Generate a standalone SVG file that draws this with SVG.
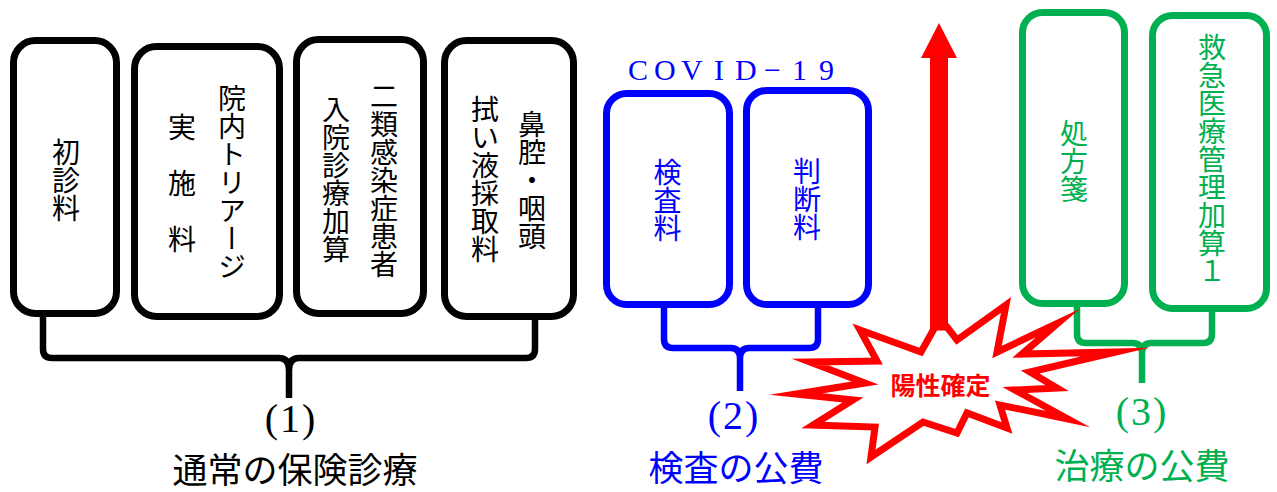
<svg xmlns="http://www.w3.org/2000/svg" width="1277" height="492" viewBox="0 0 1277 492">
<style>
.box{fill:#fff;stroke-width:7}
.bk{stroke:#000}.bl{stroke:#0000FF}.gr{stroke:#00B050}
.vt{writing-mode:vertical-rl;font-family:"Noto Sans CJK JP",sans-serif;font-size:28px;text-anchor:middle}
.br{fill:none;stroke-width:6.5;stroke-linecap:butt;stroke-linejoin:round}
.lbl{font-family:"Noto Sans CJK JP",sans-serif;font-size:35px;text-anchor:middle}
.num{font-family:"Liberation Serif",serif;font-size:40px;text-anchor:middle;letter-spacing:2px}
</style>
<rect width="1277" height="492" fill="#fff"/>
<g id="connectors">
  <path class="br" stroke="#000" d="M43,317 L43,349 Q43,358 52,358 L279,358 Q289,358 289,370 L289,398 M289,370 Q289,358 299,358 L526,358 Q535,358 535,349 L535,317"/>
  <path class="br" stroke="#0000FF" d="M664,307 L664,339 Q664,348 673,348 L731,348 Q740,348 740,359 L740,391 M740,359 Q740,348 749,348 L809,348 Q818,348 818,339 L818,307"/>
  <path class="br" stroke="#00B050" d="M1077,306 L1077,334 Q1077,343 1086,343 L1133,343 Q1142,343 1142,354 L1142,383 M1142,354 Q1142,343 1151,343 L1203,343 Q1212,343 1212,334 L1212,311"/>
  <g id="arrow-up">
    <rect x="930" y="56" width="18" height="276" fill="#FF0000"/>
    <polygon points="939,23 957,58 921,58" fill="#FF0000"/>
  </g>
</g>
<g id="n1"><rect class="box bk" x="13.5" y="40.5" width="103" height="273" rx="22"/>
  <text class="vt" x="66" y="180">初診料</text></g>
<g id="n2"><rect class="box bk" x="134.5" y="46.5" width="145" height="270" rx="22"/>
  <text class="vt" x="232" y="182">院内トリアージ</text>
  <text class="vt" x="182" y="183">実　施　料</text></g>
<g id="n3"><rect class="box bk" x="296.5" y="39.5" width="127" height="274" rx="22"/>
  <text class="vt" x="384" y="180">二類感染症患者</text>
  <text class="vt" x="336" y="179">入院診療加算</text></g>
<g id="n4"><rect class="box bk" x="444.5" y="40.5" width="129" height="276" rx="22"/>
  <text class="vt" x="532" y="180">鼻腔・咽頭</text>
  <text class="vt" x="485" y="179">拭い液採取料</text></g>
<g id="covid-label"><text x="628 654 681 714 735 764 792 819" y="80" font-family="Liberation Serif, serif" font-size="30" fill="#0000FF">COVID−19</text></g>
<g id="n5"><rect class="box bl" x="606.5" y="93.5" width="123" height="211" rx="20"/>
  <text class="vt" x="667.5" y="200.5" fill="#0000FF">検査料</text></g>
<g id="n6"><rect class="box bl" x="746.5" y="90.5" width="122" height="214" rx="20"/>
  <text class="vt" x="807" y="199.5" fill="#0000FF">判断料</text></g>
<g id="n7"><rect class="box gr" x="1022.5" y="12.5" width="102" height="291" rx="20"/>
  <text class="vt" x="1074" y="161" fill="#00B050">処方箋</text></g>
<g id="n8"><rect class="box gr" x="1152.5" y="15.5" width="114" height="293" rx="20"/>
  <text class="vt" x="1212" y="159" fill="#00B050">救急医療管理加算１</text></g>
<g id="burst">
  <polygon points="860,330 921,352 935,327 947,327 957,340 1006,305 997,352 1058,323 1022,354 1116,352 1030,372 1057,388 1015,390 1068,419 1000,405 1007,428 967,413 957,433 923,422 871,457 875,427 813,425 853,400 796,394 865,383 810,362 877,361" fill="#fff" stroke="#FF0000" stroke-width="7" stroke-linejoin="miter" stroke-miterlimit="20"/>
  <text x="940.5" y="395" font-family="Noto Sans CJK JP, sans-serif" font-size="25" font-weight="bold" fill="#FF0000" text-anchor="middle">陽性確定</text>
</g>
<g id="label1"><text class="num" x="291" y="432" fill="#000">(1)</text>
  <text class="lbl" x="295" y="483" fill="#000">通常の保険診療</text></g>
<g id="label2"><text class="num" x="734" y="429" fill="#0000FF">(2)</text>
  <text class="lbl" x="736" y="481" fill="#0000FF">検査の公費</text></g>
<g id="label3"><text class="num" x="1142" y="425" fill="#00B050">(3)</text>
  <text class="lbl" x="1142" y="479" fill="#00B050">治療の公費</text></g>
</svg>
